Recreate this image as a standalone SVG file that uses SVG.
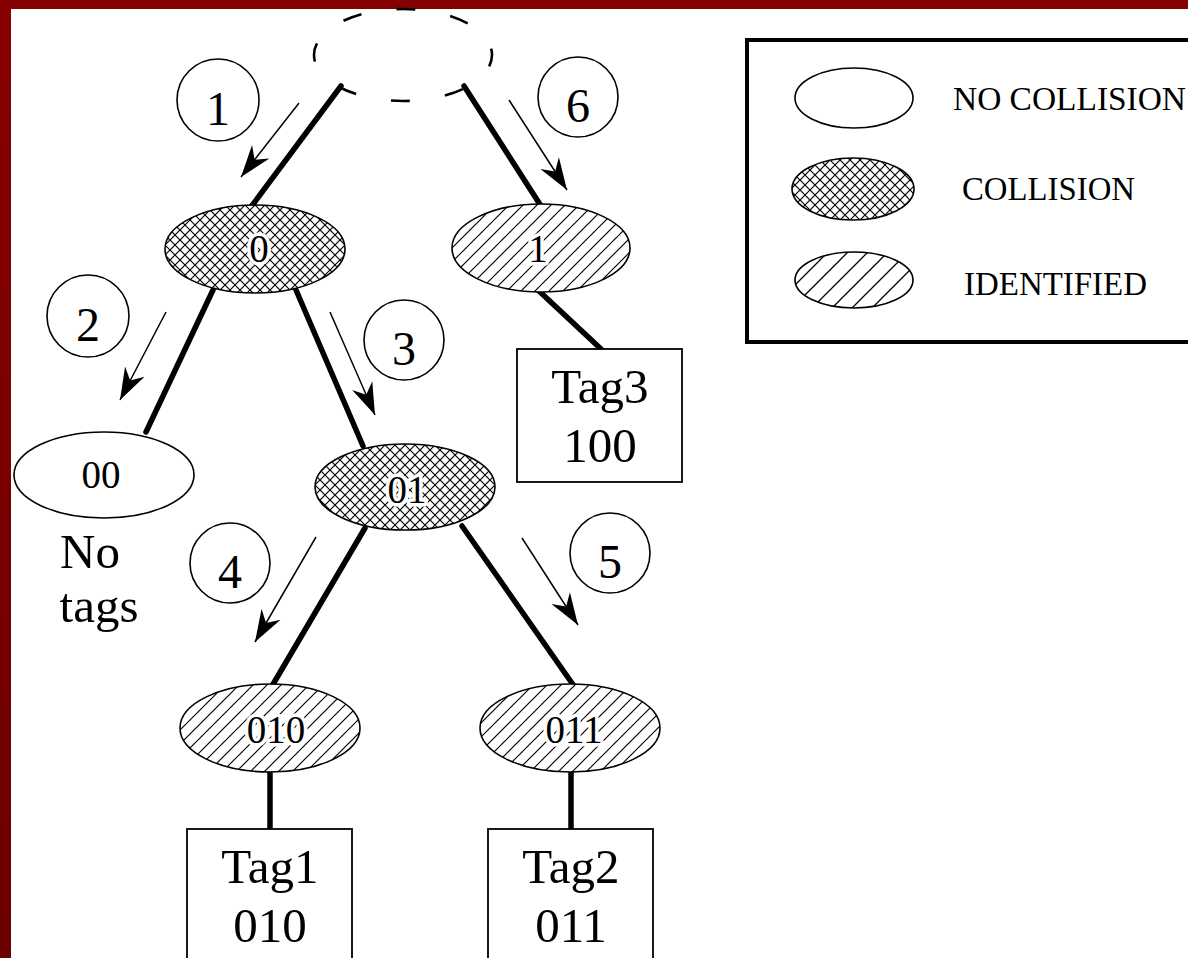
<svg xmlns="http://www.w3.org/2000/svg" width="1188" height="958" viewBox="0 0 1188 958">
<style>
.bg{fill:#ffffff}
.edge{stroke:#000;stroke-width:5.5;stroke-linecap:round;fill:none}
.arrow{stroke:#000;stroke-width:1.5;fill:none;marker-end:url(#head)}
.ell{stroke:#000;stroke-width:1.6}
.num{font-family:"Liberation Serif","Times New Roman",serif;font-size:48px;fill:#000;text-anchor:middle}
.lab{font-family:"Liberation Serif","Times New Roman",serif;font-size:39px;fill:#000;text-anchor:middle}
.halo{font-family:"Liberation Serif","Times New Roman",serif;font-size:39px;fill:#fff;stroke:#fff;stroke-width:7;stroke-linejoin:round;text-anchor:middle}
.big{font-family:"Liberation Serif","Times New Roman",serif;font-size:49px;fill:#000;text-anchor:middle}
.leg{font-family:"Liberation Serif","Times New Roman",serif;font-size:34px;fill:#000}
.box{fill:#fff;stroke:#000;stroke-width:1.8}
.circ{fill:none;stroke:#000;stroke-width:1.6}
</style>
<defs>
<pattern id="cross" patternUnits="userSpaceOnUse" width="10" height="10">
<rect width="10" height="10" fill="#fff"/>
<path d="M0,0 L10,10 M10,0 L0,10" stroke="#000" stroke-width="1.2"/>
</pattern>
<pattern id="diag" patternUnits="userSpaceOnUse" width="14" height="14">
<rect width="14" height="14" fill="#fff"/>
<path d="M0,14 L14,0 M-7,7 L7,-7 M7,21 L21,7" stroke="#000" stroke-width="1.2"/>
</pattern>
<pattern id="diag2" patternUnits="userSpaceOnUse" width="20" height="20">
<rect width="20" height="20" fill="#fff"/>
<path d="M0,20 L20,0 M-10,10 L10,-10 M10,30 L30,10" stroke="#000" stroke-width="1.3"/>
</pattern>
<marker id="head" markerUnits="userSpaceOnUse" viewBox="0 -12 34 24" refX="32" refY="0" markerWidth="34" markerHeight="24" orient="auto">
<path d="M0,-11 L32,0 L0,11 L10,0 Z" fill="#000"/>
</marker>
<linearGradient id="leftband" x1="0" y1="0" x2="0" y2="1">
<stop offset="0" stop-color="#880000"/>
<stop offset="1" stop-color="#6c0000"/>
</linearGradient>
</defs>

<rect class="bg" x="0" y="0" width="1188" height="958"/>
<rect x="0" y="0" width="1188" height="9" fill="#850000"/>
<rect x="0" y="0" width="11" height="958" fill="url(#leftband)"/>

<g id="connectors">
<line class="edge" x1="341" y1="86" x2="251" y2="207"/>
<line class="edge" x1="464" y1="86" x2="541" y2="206"/>
<line class="edge" x1="213" y1="290" x2="146" y2="432"/>
<line class="edge" x1="296" y1="290" x2="363" y2="446"/>
<line class="edge" x1="539" y1="291" x2="601" y2="349"/>
<line class="edge" x1="365" y1="528" x2="272" y2="686"/>
<line class="edge" x1="462" y1="526" x2="574" y2="686"/>
<line class="edge" x1="270" y1="773" x2="270" y2="829"/>
<line class="edge" x1="571" y1="773" x2="571" y2="829"/>
<line class="arrow" x1="299" y1="103" x2="241" y2="177"/>
<line class="arrow" x1="166" y1="312" x2="120" y2="400"/>
<line class="arrow" x1="330" y1="312" x2="375" y2="415"/>
<line class="arrow" x1="316" y1="537" x2="255" y2="642"/>
<line class="arrow" x1="522" y1="538" x2="578" y2="625"/>
<line class="arrow" x1="509" y1="100" x2="567" y2="190"/>
</g>

<g id="root">
<ellipse cx="403" cy="55" rx="89" ry="46" fill="none" stroke="#000" stroke-width="2.6" stroke-dasharray="19 35.35" stroke-dashoffset="7"/>
</g>

<g id="node-0">
<ellipse class="ell" cx="255" cy="249" rx="90" ry="44" fill="url(#cross)"/>
<text class="halo" x="259" y="262">0</text>
<text class="lab" x="259" y="262">0</text>
</g>
<g id="node-1">
<ellipse class="ell" cx="541" cy="248" rx="89" ry="44" fill="url(#diag)"/>
<text class="halo" x="538" y="262">1</text>
<text class="lab" x="538" y="262">1</text>
</g>
<g id="node-00">
<ellipse class="ell" cx="104" cy="475" rx="90" ry="43" fill="#fff"/>
<text class="lab" x="101" y="488">00</text>
</g>
<g id="node-01">
<ellipse class="ell" cx="405" cy="487" rx="90" ry="43" fill="url(#cross)"/>
<text class="halo" x="407" y="503">01</text>
<text class="lab" x="407" y="503">01</text>
</g>
<g id="node-010">
<ellipse class="ell" cx="270" cy="728" rx="90" ry="44" fill="url(#diag)"/>
<text class="halo" x="276" y="743">010</text>
<text class="lab" x="276" y="743">010</text>
</g>
<g id="node-011">
<ellipse class="ell" cx="570" cy="728" rx="90" ry="44" fill="url(#diag)"/>
<text class="halo" x="574" y="743">011</text>
<text class="lab" x="574" y="743">011</text>
</g>

<g id="tag3">
<rect class="box" x="517" y="349" width="165" height="133"/>
<text class="big" x="600" y="403">Tag3</text>
<text class="big" x="600" y="462">100</text>
</g>
<g id="tag1">
<rect class="box" x="187" y="829" width="165" height="140"/>
<text class="big" x="270" y="883">Tag1</text>
<text class="big" x="270" y="942">010</text>
</g>
<g id="tag2">
<rect class="box" x="488" y="829" width="165" height="140"/>
<text class="big" x="571" y="883">Tag2</text>
<text class="big" x="571" y="942">011</text>
</g>

<g id="notags">
<text class="big" x="90" y="568">No</text>
<text class="big" x="99" y="622">tags</text>
</g>

<g id="step-1"><circle class="circ" cx="218" cy="100" r="41"/><text class="num" x="218" y="125">1</text></g>
<g id="step-2"><circle class="circ" cx="88" cy="316" r="41"/><text class="num" x="88" y="341">2</text></g>
<g id="step-3"><circle class="circ" cx="404" cy="340" r="40"/><text class="num" x="404" y="365">3</text></g>
<g id="step-4"><circle class="circ" cx="230" cy="563" r="40"/><text class="num" x="230" y="588">4</text></g>
<g id="step-5"><circle class="circ" cx="610" cy="553" r="40"/><text class="num" x="610" y="578">5</text></g>
<g id="step-6"><circle class="circ" cx="578" cy="97" r="40"/><text class="num" x="578" y="122">6</text></g>

<g id="legend">
<rect x="747" y="40" width="460" height="302" fill="#fff" stroke="#000" stroke-width="4"/>
<ellipse class="ell" cx="854" cy="98" rx="59" ry="30" fill="#fff"/>
<ellipse class="ell" cx="853" cy="189" rx="61" ry="31" fill="url(#cross)"/>
<ellipse class="ell" cx="854" cy="280" rx="59" ry="28" fill="url(#diag2)"/>
<text class="leg" x="953" y="110" textLength="233" lengthAdjust="spacingAndGlyphs">NO COLLISION</text>
<text class="leg" x="962" y="200" textLength="173" lengthAdjust="spacingAndGlyphs">COLLISION</text>
<text class="leg" x="964" y="295" textLength="183" lengthAdjust="spacingAndGlyphs">IDENTIFIED</text>
</g>
</svg>
